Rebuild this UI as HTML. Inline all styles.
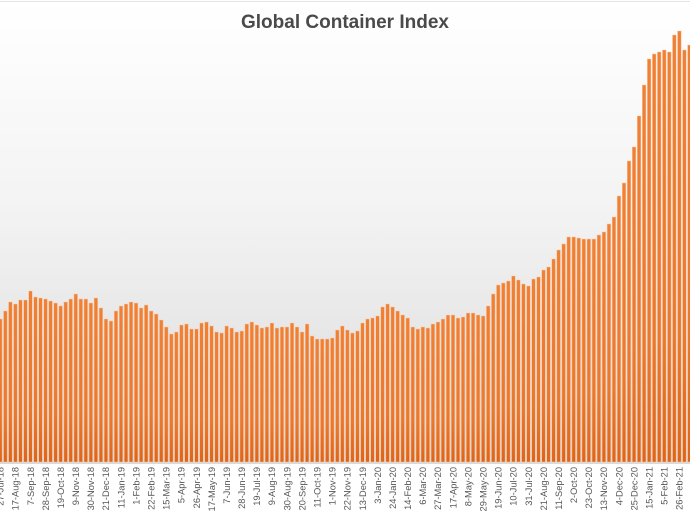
<!DOCTYPE html>
<html><head><meta charset="utf-8"><style>
html,body{margin:0;padding:0;width:690px;height:518px;overflow:hidden;background:#fff}
svg{display:block}
</style></head><body>
<svg id="chart" width="690" height="518" viewBox="0 0 690 518" xmlns="http://www.w3.org/2000/svg">
<defs>
<linearGradient id="bg" x1="0" y1="0" x2="0" y2="1">
<stop offset="0" stop-color="#ffffff"/><stop offset="0.45" stop-color="#f3f3f3"/><stop offset="1" stop-color="#dadada"/>
</linearGradient>
<linearGradient id="barg" x1="0" y1="0" x2="0" y2="1">
<stop offset="0" stop-color="#f08034"/><stop offset="0.7" stop-color="#ec782c"/><stop offset="1" stop-color="#df6418"/>
</linearGradient>
</defs>
<rect x="0" y="2" width="690" height="462" fill="url(#bg)"/>
<line x1="0" y1="1.5" x2="690" y2="1.5" stroke="#e4e4e4"/>
<text x="345" y="28" text-anchor="middle" font-family="Liberation Sans, sans-serif" font-weight="bold" font-size="19" fill="#4a4a4a">Global Container Index</text>
<g id="bars"></g>
<g id="xlabels"></g>
</svg>
<script>
const values = [143,151,160,158,162,162,171,165,164,163,161,159,156,160,163,168,163,163,159,164,154,143,141,151,156,158,160,159,154,157,151,148,142,135,128,130,137,138,133,133,139,140,136,130,129,136,134,130,131,138,140,137,134,135,139,134,135,135,139,135,130,138,126,123,123,123,124,132,136,132,129,131,139,143,144,146,155,158,155,151,147,144,135,133,135,134,138,140,143,147,147,144,145,149,149,147,146,156,168,177,179,181,186,182,178,176,183,185,192,195,203,212,218,225,225,224,223,223,223,227,230,238,245,266,279,301,315,346,377,403,408,410,412,410,427,431,412,417];
const tickLabels = ["27-Jul-18","17-Aug-18","7-Sep-18","28-Sep-18","19-Oct-18","9-Nov-18","30-Nov-18","21-Dec-18","11-Jan-19","1-Feb-19","22-Feb-19","15-Mar-19","5-Apr-19","26-Apr-19","17-May-19","7-Jun-19","28-Jun-19","19-Jul-19","9-Aug-19","30-Aug-19","20-Sep-19","11-Oct-19","1-Nov-19","22-Nov-19","13-Dec-19","3-Jan-20","24-Jan-20","14-Feb-20","6-Mar-20","27-Mar-20","17-Apr-20","8-May-20","29-May-20","19-Jun-20","10-Jul-20","31-Jul-20","21-Aug-20","11-Sep-20","2-Oct-20","23-Oct-20","13-Nov-20","4-Dec-20","25-Dec-20","15-Jan-21","5-Feb-21","26-Feb-21"];
const tickEvery = 3;
const yMax = 450;

const NS = "http://www.w3.org/2000/svg";
const baseY = 462, topY = 12, x0 = 0.3, step = 5.03, bw = 3.6;
function xScale(i){ return x0 + i*step; }
function yScale(v){ return baseY - (v / yMax) * (baseY - topY); }

const gb = document.getElementById('bars');
values.forEach((v,i)=>{
  const r = document.createElementNS(NS,'rect');
  const y = yScale(v);
  r.setAttribute('x', xScale(i) - bw/2);
  r.setAttribute('y', y);
  r.setAttribute('width', bw);
  r.setAttribute('height', baseY - y);
  r.setAttribute('fill', 'url(#barg)');
  r.setAttribute('stroke', '#f6c6a4');
  r.setAttribute('stroke-width', '0.5');
  
  
  gb.appendChild(r);
});

const gl = document.getElementById('xlabels');
tickLabels.forEach((t,k)=>{
  const x = xScale(k*tickEvery);
  const tx = document.createElementNS(NS,'text');
  tx.setAttribute('transform', 'translate(' + (x+3.3) + ',467) rotate(-90)');
  tx.setAttribute('text-anchor', 'end');
  tx.setAttribute('font-family', 'Liberation Sans, sans-serif');
  tx.setAttribute('font-size', '9.3');
  tx.setAttribute('fill', '#555');
  tx.textContent = t;
  
  
  gl.appendChild(tx);
});
</script>
</body></html>
